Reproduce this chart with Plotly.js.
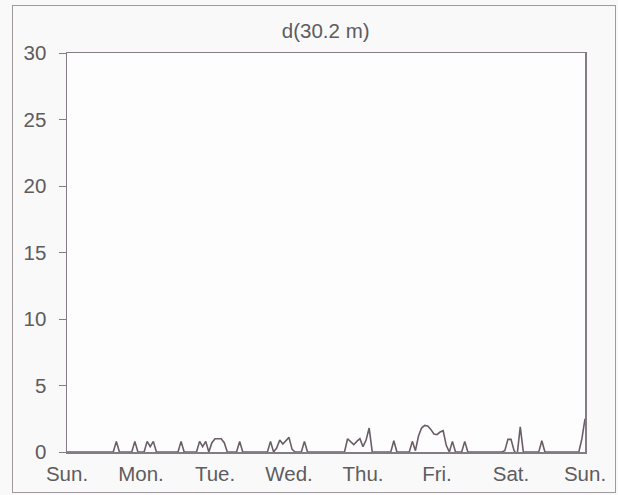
<!DOCTYPE html>
<html>
<head>
<meta charset="utf-8">
<script src="https://cdn.plot.ly/plotly-3.0.1.min.js"></script>
<style>
  html, body { margin: 0; padding: 0; background: #f9f9f9; }
  #wrap { position: relative; width: 618px; height: 495px; }
  #chart { position: absolute; left: 0; top: 0; width: 618px; height: 495px; }
  #frame { position: absolute; left: 12px; top: 5px; width: 602px; height: 486px;
           border: 1.5px solid #a09aa0; pointer-events: none; }
</style>
</head>
<body>
<div id="wrap"><div id="chart"></div><div id="frame"></div></div>
<script>
// hourly index over one week (0 = Sunday 00:00, 168 = next Sunday 00:00)
const hours = [
  0,1,2,3,4,5,6,7,8,9,10,11,12,13,14,15,16,17,18,19,20,21,22,23,
  24,25,26,27,28,29,30,31,32,33,34,35,36,37,38,39,40,41,42,43,44,45,46,47,
  48,49,50,51,52,53,54,55,56,57,58,59,60,61,62,63,64,65,66,67,68,69,70,71,
  72,73,74,75,76,77,78,79,80,81,82,83,84,85,86,87,88,89,90,91,92,93,94,95,
  96,97,98,99,100,101,102,103,104,105,106,107,108,109,110,111,112,113,114,115,116,117,118,119,
  120,121,122,123,124,125,126,127,128,129,130,131,132,133,134,135,136,137,138,139,140,141,142,143,
  144,145,146,147,148,149,150,151,152,153,154,155,156,157,158,159,160,161,162,163,164,165,166,167,
  168
];
// d(30.2 m) values
const dValues = [
  0,0,0,0,0,0,0,0,0,0,0,0,0,0,0,0,0.8,0,0,0,0,0,0.8,0,
  0,0,0.8,0.4,0.8,0,0,0,0,0,0,0,0,0.8,0,0,0,0,0,0.8,0.4,0.8,0,0.7,
  1.0,1.0,1.0,0.7,0,0,0,0,0.8,0,0,0,0,0,0,0,0,0,0.8,0,0.3,0.9,0.6,0.85,
  1.1,0.2,0,0,0,0.8,0,0,0,0,0,0,0,0,0,0,0,0,0,1.0,0.8,0.55,0.8,1.0,
  0.4,0.9,1.8,0,0,0,0,0,0,0,0.85,0,0,0,0,0,0.8,0.1,1.2,1.8,2.0,1.95,1.7,1.35,
  1.3,1.5,1.6,0.5,0,0.8,0,0,0,0.8,0,0,0,0,0,0,0,0,0,0,0,0,0.1,0.95,
  0.95,0.1,-0.2,1.9,0,0,0,0,0,0,0.85,0,0,0,0,0,0,0,0,0,0,0,0,1.0,
  2.5
];
const dayTicks = [0,24,48,72,96,120,144,168];
const dayLabels = ['Sun.','Mon.','Tue.','Wed.','Thu.','Fri.','Sat.','Sun.'];
const yTicks = [0,5,10,15,20,25,30];
const chartTitle = 'd(30.2 m)';

const trace = {
  x: hours, y: dValues, type: 'scatter', mode: 'lines',
  line: { color: '#6a5d68', width: 1.6 },
  hoverinfo: 'skip'
};
const axisColor = '#857b84';
const font = { family: 'Liberation Sans, Arial, sans-serif', size: 20.5, color: '#5e5c5e' };
const layout = {
  width: 618, height: 495,
  margin: { l: 67, r: 33, t: 53, b: 43, pad: 0 },
  paper_bgcolor: '#f9f9f9', plot_bgcolor: '#fdfdfd',
  showlegend: false,
  font: font,
  title: { text: chartTitle, font: font, x: 0.527, xanchor: 'center', y: 0.938, yanchor: 'middle' },
  xaxis: {
    range: [0, 168], tickvals: dayTicks, ticktext: dayLabels,
    showgrid: false, zeroline: false, showline: true, mirror: true,
    linecolor: axisColor, linewidth: 1.5, ticks: '', ticklabelstandoff: 3,
    tickfont: font, fixedrange: true
  },
  yaxis: {
    range: [0, 30], tickvals: yTicks,
    showgrid: false, zeroline: false, showline: true, mirror: true,
    linecolor: axisColor, linewidth: 1.5, ticks: 'outside', ticklen: 7,
    tickcolor: axisColor, tickwidth: 1, ticklabelstandoff: 8,
    tickfont: font, fixedrange: true
  }
};
Plotly.newPlot('chart', [trace], layout, { displayModeBar: false, staticPlot: true });
</script>
</body>
</html>
